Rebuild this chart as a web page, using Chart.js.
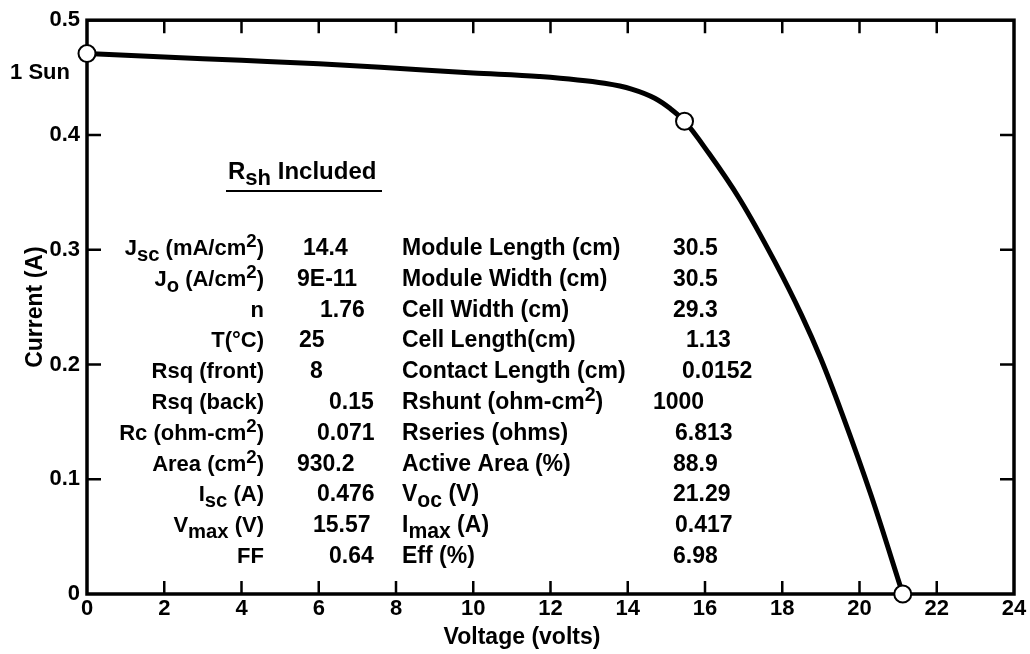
<!DOCTYPE html>
<html>
<head>
<meta charset="utf-8">
<script src="https://cdn.jsdelivr.net/npm/chart.js@4.4.1/dist/chart.umd.min.js"></script>
<style>
  html, body { margin: 0; padding: 0; background: #fff; }
  #ivChart { display: block; }
</style>
</head>
<body>
<canvas id="ivChart" width="1030" height="654"></canvas>
<script>
// I-V curve of the module
const voltage = [0, 2, 4, 6, 7.6, 10, 11.7, 13.4, 14.1, 14.7, 15.1, 15.47, 16.1, 16.9, 17.8, 18.5, 19.0, 19.55, 20.3, 21.12];
const current = [0.471, 0.468, 0.465, 0.462, 0.459, 0.454, 0.451, 0.445, 0.440, 0.432, 0.423, 0.412, 0.384, 0.344, 0.290, 0.243, 0.205, 0.157, 0.086, 0];

// open circles: short circuit, max power, open circuit
const markerV = [0, 15.47, 21.12];
const markerI = [0.471, 0.412, 0];

// parameter table
const tableTitle = 'R_{sh} Included';
const leftLabels = ['J_{sc} (mA/cm^{2})', 'J_{o} (A/cm^{2})', 'n', 'T(°C)', 'Rsq (front)', 'Rsq (back)',
    'Rc (ohm-cm^{2})', 'Area (cm^{2})', 'I_{sc} (A)', 'V_{max} (V)', 'FF'];
const leftValues = ['14.4', '9E-11', '1.76', '25', '8', '0.15', '0.071', '930.2', '0.476', '15.57', '0.64'];
const rightLabels = ['Module Length (cm)', 'Module Width (cm)', 'Cell Width (cm)', 'Cell Length(cm)',
    'Contact Length (cm)', 'Rshunt (ohm-cm^{2})', 'Rseries (ohms)', 'Active Area (%)', 'V_{oc} (V)',
    'I_{max} (A)', 'Eff (%)'];
const rightValues = ['30.5', '30.5', '29.3', '1.13', '0.0152', '1000', '6.813', '88.9', '21.29', '0.417', '6.98'];

const FONT = '"Liberation Sans", Arial, sans-serif';
const FS = 23;      // table text
const TICK_FS = 22; // axis numbers

// where each value starts (the original is typed, not aligned)
const leftValueX = [303, 297, 320, 299, 310, 329, 317, 297, 317, 313, 329];
const rightValueX = [673, 673, 673, 686, 682, 653, 675, 673, 673, 675, 673];

function parseRich(s) {
    const parts = [];
    const re = /([_^])\{([^}]*)\}/g;
    let last = 0, m;
    while ((m = re.exec(s))) {
        if (m.index > last) parts.push({ t: s.slice(last, m.index), k: '' });
        parts.push({ t: m[2], k: m[1] });
        last = re.lastIndex;
    }
    if (last < s.length) parts.push({ t: s.slice(last), k: '' });
    return parts;
}

function partFont(k, size) {
    const sz = k === '_' ? size * 0.92 : k === '^' ? size * 0.85 : size;
    return 'bold ' + sz + 'px ' + FONT;
}

function richWidth(ctx, s, size) {
    let w = 0;
    parseRich(s).forEach(p => { ctx.font = partFont(p.k, size); w += ctx.measureText(p.t).width; });
    return w;
}

function drawRich(ctx, s, x, y, align, size) {
    size = size || FS;
    if (align === 'right') x -= richWidth(ctx, s, size);
    if (align === 'center') x -= richWidth(ctx, s, size) / 2;
    ctx.textAlign = 'left';
    ctx.textBaseline = 'alphabetic';
    parseRich(s).forEach(p => {
        ctx.font = partFont(p.k, size);
        const dy = p.k === '_' ? 6 : p.k === '^' ? -8 : 0;
        ctx.fillText(p.t, x, y + dy);
        x += ctx.measureText(p.t).width;
    });
}

const framePlugin = {
    id: 'frame',
    beforeDatasetsDraw(chart) {
        const { ctx, chartArea: a, scales: { x, y } } = chart;
        ctx.save();
        ctx.strokeStyle = '#000';
        ctx.lineWidth = 3.5;
        ctx.strokeRect(a.left, a.top, a.right - a.left, a.bottom - a.top);
        ctx.lineWidth = 2.5;
        ctx.beginPath();
        x.ticks.forEach(t => {
            if (t.value <= x.min || t.value >= x.max) return;
            const px = x.getPixelForValue(t.value);
            ctx.moveTo(px, a.bottom); ctx.lineTo(px, a.bottom - 13);
            ctx.moveTo(px, a.top); ctx.lineTo(px, a.top + 13);
        });
        y.ticks.forEach(t => {
            if (t.value <= y.min || t.value >= y.max) return;
            const py = y.getPixelForValue(t.value);
            ctx.moveTo(a.left, py); ctx.lineTo(a.left + 14, py);
            ctx.moveTo(a.right, py); ctx.lineTo(a.right - 14, py);
        });
        ctx.stroke();
        ctx.restore();
    },
    afterDraw(chart) {
        const { ctx, chartArea: a, scales: { y } } = chart;
        ctx.save();
        ctx.fillStyle = '#000';
        ctx.strokeStyle = '#000';

        // "1 Sun" next to the short-circuit point
        drawRich(ctx, '1 Sun', a.left - 17, y.getPixelForValue(markerI[0]) + 26, 'right', 22);

        // x axis title, sits a bit left of centre in the original
        drawRich(ctx, 'Voltage (volts)', 522, 644, 'center', FS);

        // table heading, underlined
        drawRich(ctx, tableTitle, 228, 179, 'left', 24);
        ctx.lineWidth = 2;
        ctx.beginPath();
        ctx.moveTo(226, 191); ctx.lineTo(382, 191);
        ctx.stroke();

        const row0 = 255, step = 30.8;
        leftLabels.forEach((lab, i) => {
            const by = row0 + i * step;
            drawRich(ctx, lab, 264, by, 'right', 22);
            drawRich(ctx, leftValues[i], leftValueX[i], by, 'left');
            drawRich(ctx, rightLabels[i], 402, by, 'left');
            drawRich(ctx, rightValues[i], rightValueX[i], by, 'left');
        });
        ctx.restore();
    }
};

const ctx = document.getElementById('ivChart').getContext('2d');

new Chart(ctx, {
    type: 'line',
    data: {
        datasets: [
            {
                label: 'points',
                data: markerV.map((v, i) => ({ x: v, y: markerI[i] })),
                showLine: false,
                pointRadius: 8.5,
                pointBackgroundColor: '#fff',
                pointBorderColor: '#000',
                pointBorderWidth: 2,
                clip: false
            },
            {
                label: 'I-V',
                data: voltage.map((v, i) => ({ x: v, y: current[i] })),
                borderColor: '#000',
                borderWidth: 5,
                pointRadius: 0,
                cubicInterpolationMode: 'monotone',
                fill: false,
                clip: false
            }
        ]
    },
    options: {
        responsive: false,
        animation: false,
        devicePixelRatio: 1,
        layout: {
            padding: { top: 15, right: 16, left: 0, bottom: 0 }
        },
        scales: {
            x: {
                type: 'linear',
                min: 0,
                max: 24,
                afterFit: s => { s.height = 60; },
                ticks: {
                    stepSize: 2,
                    color: '#000',
                    padding: 2,
                    font: { family: FONT, size: TICK_FS, weight: 'bold' }
                },
                grid: { drawOnChartArea: false, drawTicks: false },
                border: { display: false },
                title: { display: false }
            },
            y: {
                min: 0,
                max: 0.5,
                afterFit: s => { s.width = 87; },
                ticks: {
                    stepSize: 0.1,
                    color: '#000',
                    padding: 7,
                    font: { family: FONT, size: TICK_FS, weight: 'bold' },
                    callback: v => Number(v.toFixed(1)).toString()
                },
                grid: { drawOnChartArea: false, drawTicks: false },
                border: { display: false },
                title: {
                    display: true,
                    text: 'Current (A)',
                    color: '#000',
                    font: { family: FONT, size: FS, weight: 'bold' },
                    padding: { top: 22, bottom: 0 }
                }
            }
        },
        plugins: {
            legend: { display: false },
            tooltip: { enabled: false }
        }
    },
    plugins: [framePlugin]
});
</script>
</body>
</html>
